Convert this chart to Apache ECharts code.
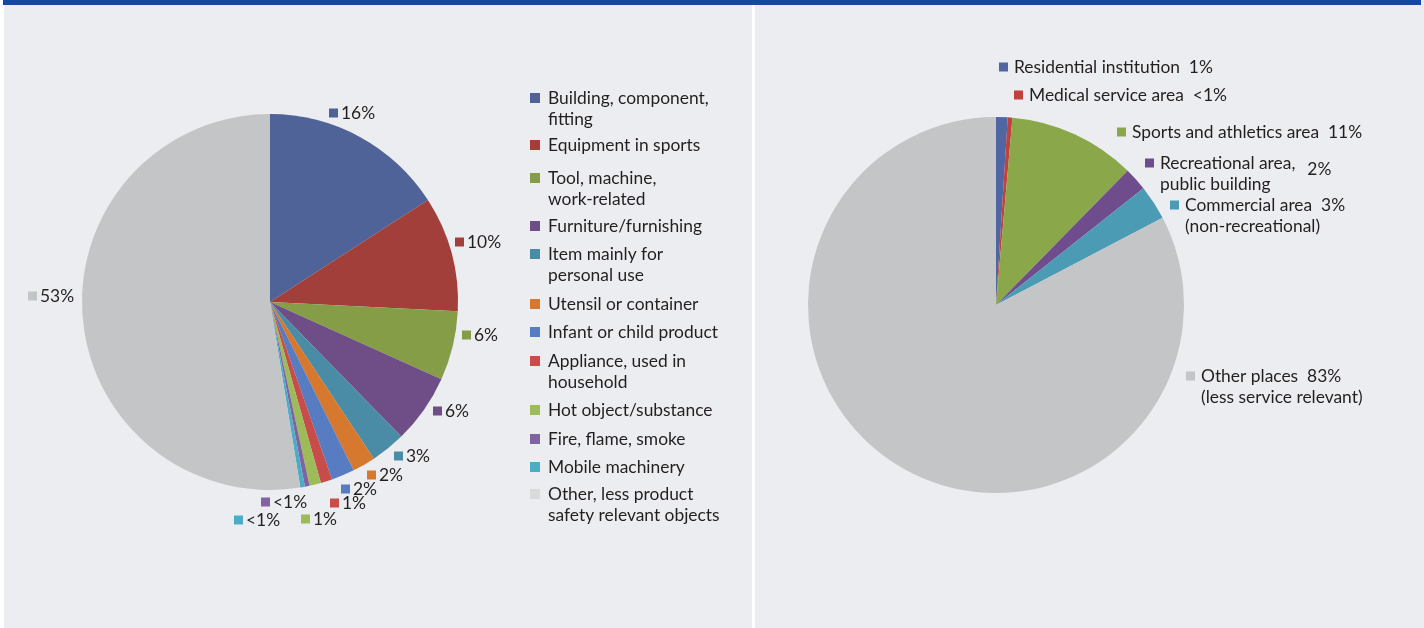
<!DOCTYPE html>
<html>
<head>
<meta charset="utf-8">
<script src="https://cdn.jsdelivr.net/npm/echarts@6/dist/echarts.min.js"></script>
<style>
  html, body { margin: 0; padding: 0; background: #ffffff; }
  #chart { width: 1424px; height: 628px; }
</style>
</head>
<body>
<div id="chart"></div>
<script>
// Product involved in the injury (left pie, with legend)
const productCategories = [
  'Building, component,\nfitting',
  'Equipment in sports',
  'Tool, machine,\nwork-related',
  'Furniture/furnishing',
  'Item mainly for\npersonal use',
  'Utensil or container',
  'Infant or child product',
  'Appliance, used in\nhousehold',
  'Hot object/substance',
  'Fire, flame, smoke',
  'Mobile machinery',
  'Other, less product\nsafety relevant objects'
];
const productShares = [16, 10, 6, 6, 3, 2, 2, 1, 1, 0.4, 0.4, 53];
const productColors = [
  '#4f6399', '#a23f3a', '#869d48', '#6f4d87', '#4a8ba6', '#d6792f',
  '#587cc1', '#c74c4a', '#9dbb59', '#8064a2', '#4bacc6', '#c4c5c7'
];

// Place where the injury happened (right pie, labelled directly)
const placeCategories = [
  'Residential institution',
  'Medical service area',
  'Sports and athletics area',
  'Recreational area,\npublic building',
  'Commercial area\n(non-recreational)',
  'Other places\n(less service relevant)'
];
const placeShares = [1, 0.4, 11, 2, 3, 83];
const placeColors = ['#4f66a3', '#c0423d', '#8aa84a', '#6f4d8c', '#4b9bb5', '#c4c5c7'];

// ---- layout ----
const FONT = 'Lato';
const FONT_SIZE = 17.4;
const TEXT_COLOR = '#231f20';
const LINE_H = 21;
const leftCenter = [270, 302];
const rightCenter = [996, 305];
const pieRadius = 188;

// label anchors (square's left edge, first-line middle) relative to each pie centre
const leftLabelAnchors = [
  [59, -189], [185, -60], [192, 33], [163, 109], [124, 154], [97, 173],
  [71, 187], [60, 201], [31, 217], [-9, 200], [-36, 218], [-242, -6]
];
const rightLabelAnchors = [
  [3, -238], [18, -210], [121, -173], [149, -142], [174, -100], [190, 71]
];
// the percentage sits between the two lines for this wrapped place name
const placeValueLowered = [false, false, false, true, false, false];
// legend: vertical middle of each colour square
const legendIconCenters = [98, 145, 178, 226, 254, 304, 332, 361, 410, 439, 467, 494];

function pct(v) {
  return v < 1 ? '<1%' : Math.round(v) + '%';
}

function richFor(colors, gap) {
  const base = { fontFamily: FONT, fontSize: FONT_SIZE, color: TEXT_COLOR, lineHeight: LINE_H };
  const rich = {
    t: Object.assign({}, base, { padding: [0, 0, 0, gap] }),
    v: Object.assign({}, base, { padding: [12, 0, 0, 12] }),
    ind: { width: 9, height: 9 }
  };
  colors.forEach((c, i) => {
    rich['s' + i] = { width: 9, height: 9, backgroundColor: c };
  });
  return rich;
}

function anchorLayout(center, anchors) {
  return function (p) {
    const a = anchors[p.dataIndex];
    return {
      x: center[0] + a[0],
      y: center[1] + a[1] - LINE_H / 2,
      align: 'left',
      verticalAlign: 'top'
    };
  };
}

const chart = echarts.init(document.getElementById('chart'), null, { renderer: 'canvas' });

// one legend block per entry so wrapped names keep their square on the first line
const legends = productCategories.map((name, i) => {
  const twoLine = name.indexOf('\n') >= 0;
  const boxHalf = twoLine ? (LINE_H * 3) / 2 : LINE_H / 2;
  const item = { name: name };
  if (i === productCategories.length - 1) item.itemStyle = { color: '#d9dadc' };
  return {
    data: [item],
    orient: 'vertical',
    left: 530,
    top: legendIconCenters[i] - boxHalf,
    padding: 0,
    itemWidth: 10,
    itemHeight: 10,
    icon: 'rect',
    selectedMode: false,
    formatter: n => (twoLine ? '\n' + n : n),
    textStyle: {
      fontFamily: FONT,
      fontSize: FONT_SIZE,
      color: TEXT_COLOR,
      lineHeight: LINE_H,
      padding: [0, 0, 0, 3]
    }
  };
});

const option = {
  backgroundColor: '#ffffff',
  animation: false,
  textStyle: { fontFamily: FONT },
  graphic: [
    { type: 'rect', silent: true, z: -10, shape: { x: 4, y: 0, width: 748, height: 628 }, style: { fill: '#ecedf0' } },
    { type: 'rect', silent: true, z: -10, shape: { x: 755, y: 0, width: 669, height: 628 }, style: { fill: '#ecedf0' } },
    { type: 'rect', silent: true, z: -10, shape: { x: 3, y: 0, width: 1418, height: 5 }, style: { fill: '#15499b' } }
  ],
  legend: legends,
  series: [
    {
      type: 'pie',
      center: leftCenter,
      radius: pieRadius,
      startAngle: 90,
      clockwise: true,
      avoidLabelOverlap: false,
      itemStyle: { borderWidth: 0 },
      emphasis: { disabled: true },
      labelLine: { show: false, length: 4, length2: 0 },
      label: {
        show: true,
        position: 'outside',
        formatter: p => '{s' + p.dataIndex + '|}{t|' + pct(p.value) + '}',
        rich: richFor(productColors, 3)
      },
      labelLayout: anchorLayout(leftCenter, leftLabelAnchors),
      data: productCategories.map((name, i) => ({
        name: name,
        value: productShares[i],
        itemStyle: { color: productColors[i] }
      }))
    },
    {
      type: 'pie',
      center: rightCenter,
      radius: pieRadius,
      startAngle: 90,
      clockwise: true,
      avoidLabelOverlap: false,
      itemStyle: { borderWidth: 0 },
      emphasis: { disabled: true },
      labelLine: { show: false, length: 4, length2: 0 },
      label: {
        show: true,
        position: 'outside',
        formatter: p => {
          const lines = p.name.split('\n');
          let s = '{s' + p.dataIndex + '|}';
          if (placeValueLowered[p.dataIndex]) {
            s += '{t|' + lines[0] + '}{v|' + pct(p.value) + '}';
          } else {
            s += '{t|' + lines[0] + '  ' + pct(p.value) + '}';
          }
          for (let k = 1; k < lines.length; k++) {
            s += '\n{ind|}{t|' + lines[k] + '}';
          }
          return s;
        },
        rich: richFor(placeColors, 6)
      },
      labelLayout: anchorLayout(rightCenter, rightLabelAnchors),
      data: placeCategories.map((name, i) => ({
        name: name,
        value: placeShares[i],
        itemStyle: { color: placeColors[i] }
      }))
    }
  ]
};

chart.setOption(option);
</script>
</body>
</html>
